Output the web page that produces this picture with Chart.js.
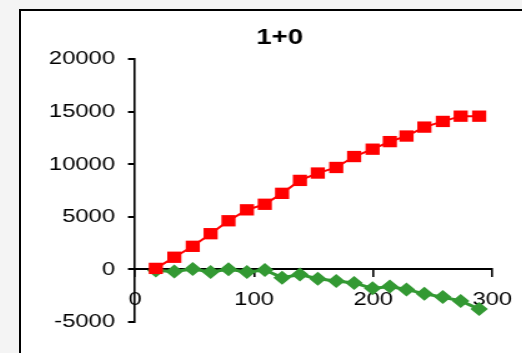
<!DOCTYPE html>
<html>
<head>
<meta charset="utf-8">
<script src="https://cdn.jsdelivr.net/npm/chart.js@4/dist/chart.umd.min.js"></script>
<style>
  html, body { margin: 0; padding: 0; width: 522px; height: 353px; overflow: hidden; background: #f4f4f4; }
  #frame { position: absolute; left: 19px; top: 9px; width: 560px; height: 400px; border: 2px solid #000; background: #fff; }
  #c { position: absolute; left: 0; top: 0; transform: scaleX(1.25); transform-origin: 0 0; }
</style>
</head>
<body>
<div id="frame"><canvas id="c" width="414" height="345"></canvas></div>
<script>
// sample positions shared by both series
const xValues = [17.5, 33, 48.5, 63.5, 78.5, 94, 109, 123.5, 138.5, 153.5, 169, 184, 199.5, 214, 228, 243, 258.5, 273.5, 289];
// red series (squares)
const redValues = [100, 1160, 2200, 3400, 4630, 5670, 6200, 7240, 8470, 9170, 9700, 10740, 11440, 12160, 12690, 13540, 14080, 14580, 14580];
// green series (diamonds)
const greenValues = [-100, -200, 50, -250, 20, -250, -50, -780, -480, -880, -1100, -1280, -1800, -1620, -1900, -2320, -2630, -3000, -3770];
const xTicks = [0, 100, 200, 300];
const yTicks = [-5000, 0, 5000, 10000, 15000, 20000];
const chartTitle = '1+0';

const FONT = "Arial, 'Liberation Sans', sans-serif";
const toPoints = ys => ys.map((y, i) => ({ x: xValues[i], y }));

new Chart(document.getElementById('c'), {
  type: 'scatter',
  data: {
    datasets: [
      {
        data: toPoints(redValues),
        showLine: true,
        borderColor: '#ff0000',
        backgroundColor: '#ff0000',
        borderWidth: 2,
        pointStyle: 'rect',
        pointRadius: 8,
        pointBorderWidth: 0,
        pointBackgroundColor: '#ff0000',
        clip: false
      },
      {
        data: toPoints(greenValues),
        showLine: true,
        borderColor: '#339933',
        backgroundColor: '#339933',
        borderWidth: 3,
        pointStyle: 'rectRot',
        pointRadius: 7,
        pointBorderWidth: 0,
        pointBackgroundColor: '#339933',
        clip: false
      }
    ]
  },
  options: {
    responsive: false,
    animation: false,
    events: [],
    layout: { padding: { left: 0, right: 0, top: 0, bottom: 34 } },
    plugins: {
      legend: { display: false },
      tooltip: { enabled: false },
      title: {
        display: true,
        text: chartTitle,
        color: '#000',
        font: { family: FONT, size: 22, weight: 'bold' },
        padding: { top: 14, bottom: 7.8 }
      }
    },
    scales: {
      x: {
        type: 'linear',
        min: 0,
        max: 300,
        position: { y: 0 },
        afterBuildTicks: s => { s.ticks = xTicks.map(v => ({ value: v })); },
        grid: { drawOnChartArea: false, drawTicks: true, tickLength: 7, color: '#000', lineWidth: 1.6 },
        border: { display: true, color: '#000', width: 2 },
        ticks: {
          color: '#000',
          font: { family: FONT, size: 19 },
          padding: 11.5,
          maxRotation: 0,
          autoSkip: false,
          callback: v => String(v)
        }
      },
      y: {
        type: 'linear',
        position: 'left',
        min: -5000,
        max: 20000,
        afterBuildTicks: s => { s.ticks = yTicks.map(v => ({ value: v })); },
        afterFit: s => { s.width = 91.2; },
        grid: { drawOnChartArea: false, drawTicks: true, tickLength: 5.6, color: '#000', lineWidth: 2 },
        border: { display: true, color: '#000', width: 1.6 },
        ticks: {
          color: '#000',
          font: { family: FONT, size: 19 },
          padding: 10.4,
          callback: v => String(v)
        }
      },
      // empty margin on the right so the title sits centred on the frame
      rightMargin: {
        type: 'linear',
        position: 'right',
        afterFit: s => { s.width = 37; },
        grid: { display: false },
        border: { display: false },
        ticks: { display: false }
      }
    }
  }
});
</script>
</body>
</html>
